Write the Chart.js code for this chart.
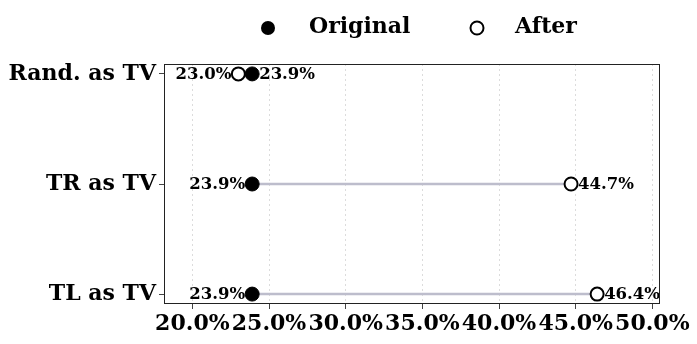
<!DOCTYPE html>
<html>
<head>
<meta charset="utf-8">
<script src="https://cdn.jsdelivr.net/npm/chart.js@4"></script>
<style>
  html, body { margin: 0; padding: 0; background: #fff; }
  #wrap { width: 697px; height: 344px; }
</style>
</head>
<body>
<div id="wrap"><canvas id="dumbbell"></canvas></div>
<script>
const categories = ['Rand. as TV', 'TR as TV', 'TL as TV'];
const original = [23.9, 23.9, 23.9];
const after = [23.0, 44.7, 46.4];
const xTicks = [20, 25, 30, 35, 40, 45, 50];

const FONT = "'DejaVu Serif', serif";

// connecting segments, one dataset per row
const segments = categories.map((c, i) => ({
    type: 'line',
    data: [{ x: original[i], y: i }, { x: after[i], y: i }],
    borderColor: '#bdbdcc',
    borderWidth: 2.5,
    pointRadius: 0,
    fill: false,
    order: 3
}));

const labelPlugin = {
    id: 'valueLabels',
    afterDatasetsDraw(chart) {
        const ctx = chart.ctx;
        const xs = chart.scales.x, ys = chart.scales.y;
        ctx.save();
        ctx.font = 'bold 16.5px ' + FONT;
        ctx.fillStyle = '#000';
        ctx.textBaseline = 'middle';
        categories.forEach((c, i) => {
            const y = ys.getPixelForValue(i);
            const pairs = [original[i], after[i]];
            const lo = Math.min(...pairs), hi = Math.max(...pairs);
            ctx.textAlign = 'right';
            ctx.fillText(lo.toFixed(1) + '%', xs.getPixelForValue(lo) - 7, y + 1);
            ctx.textAlign = 'left';
            ctx.fillText(hi.toFixed(1) + '%', xs.getPixelForValue(hi) + 7, y + 1);
        });
        ctx.restore();
    }
};

const framePlugin = {
    id: 'frame',
    afterDraw(chart) {
        const { left, right, top, bottom } = chart.chartArea;
        const ctx = chart.ctx;
        ctx.save();
        ctx.strokeStyle = '#222';
        ctx.lineWidth = 1;
        ctx.strokeRect(left + 0.5, top + 0.5, right - left - 1, bottom - top - 1);

        // legend
        ctx.font = 'bold 22px ' + FONT;
        ctx.fillStyle = '#000';
        ctx.textBaseline = 'middle';
        ctx.textAlign = 'left';
        ctx.beginPath();
        ctx.arc(268, 28, 7, 0, Math.PI * 2);
        ctx.fill();
        ctx.fillText('Original', 309, 27);
        ctx.beginPath();
        ctx.arc(477, 28, 6.5, 0, Math.PI * 2);
        ctx.fillStyle = '#fff';
        ctx.fill();
        ctx.lineWidth = 2;
        ctx.strokeStyle = '#000';
        ctx.stroke();
        ctx.fillStyle = '#000';
        ctx.fillText('After', 515, 27);
        ctx.restore();
    }
};

new Chart(document.getElementById('dumbbell'), {
    type: 'scatter',
    data: {
        datasets: [
            ...segments,
            {
                label: 'Original',
                data: original.map((v, i) => ({ x: v, y: i })),
                backgroundColor: '#000',
                borderColor: '#000',
                borderWidth: 1,
                pointRadius: 7,
                order: 1
            },
            {
                label: 'After',
                data: after.map((v, i) => ({ x: v, y: i })),
                backgroundColor: '#fff',
                borderColor: '#000',
                borderWidth: 2,
                pointRadius: 6.5,
                order: 0
            }
        ]
    },
    options: {
        responsive: true,
        maintainAspectRatio: false,
        animation: false,
        layout: { padding: { top: 64, right: 37, left: 0, bottom: 0 } },
        plugins: {
            legend: { display: false },
            tooltip: { enabled: false }
        },
        scales: {
            x: {
                type: 'linear',
                min: 18.15,
                max: 50.5,
                afterBuildTicks: s => { s.ticks = xTicks.map(v => ({ value: v })); },
                afterFit: s => { s.height = 40; },
                grid: {
                    color: '#dcdcdc',
                    lineWidth: 1,
                    tickColor: '#444',
                    tickLength: 5
                },
                border: { display: false, dash: [2, 3] },
                ticks: {
                    color: '#000',
                    padding: 2,
                    maxRotation: 0,
                    autoSkip: false,
                    font: { family: FONT, size: 22, weight: 'bold' },
                    callback: v => v.toFixed(1) + '%'
                }
            },
            y: {
                type: 'linear',
                reverse: true,
                min: -0.09,
                max: 2.09,
                afterBuildTicks: s => { s.ticks = categories.map((c, i) => ({ value: i })); },
                afterFit: s => { s.width = 164; },
                grid: {
                    drawOnChartArea: false,
                    tickColor: '#444',
                    tickLength: 5
                },
                border: { display: false },
                ticks: {
                    color: '#000',
                    padding: 3,
                    font: { family: FONT, size: 22, weight: 'bold' },
                    callback: v => categories[v]
                }
            }
        }
    },
    plugins: [labelPlugin, framePlugin]
});
</script>
</body>
</html>
